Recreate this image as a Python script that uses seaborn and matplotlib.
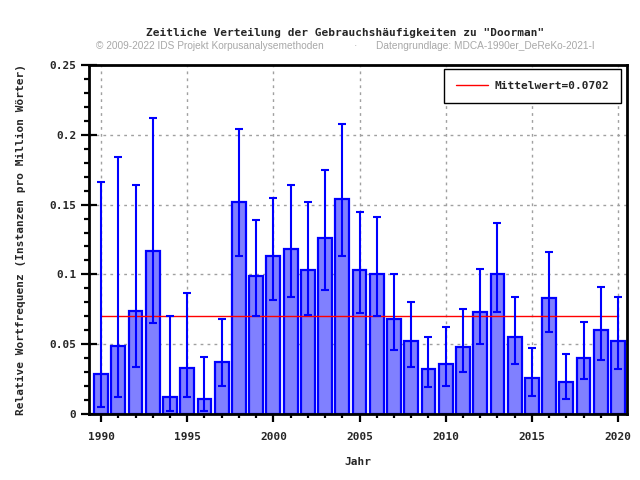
import numpy as np
import pandas as pd
import matplotlib
matplotlib.use('Agg')
import matplotlib.pyplot as plt
from matplotlib.ticker import MultipleLocator
import seaborn as sns

# Data
years = list(range(1990, 2021))
freq = [0.029, 0.049, 0.074, 0.117, 0.012, 0.033, 0.011, 0.037, 0.152, 0.099,
        0.113, 0.118, 0.103, 0.126, 0.154, 0.103, 0.100, 0.068, 0.052, 0.032,
        0.036, 0.048, 0.073, 0.100, 0.055, 0.026, 0.083, 0.023, 0.040, 0.060,
        0.052]
ci_low = [0.005, 0.012, 0.034, 0.065, 0.002, 0.012, 0.002, 0.020, 0.113, 0.070,
          0.082, 0.084, 0.071, 0.089, 0.113, 0.072, 0.070, 0.046, 0.034, 0.019,
          0.020, 0.030, 0.050, 0.073, 0.036, 0.013, 0.059, 0.011, 0.025, 0.039,
          0.032]
ci_high = [0.166, 0.184, 0.164, 0.212, 0.070, 0.087, 0.041, 0.068, 0.204, 0.139,
           0.155, 0.164, 0.152, 0.175, 0.208, 0.145, 0.141, 0.100, 0.080, 0.055,
           0.062, 0.075, 0.104, 0.137, 0.084, 0.047, 0.116, 0.043, 0.066, 0.091,
           0.084]
mean_value = 0.0702

df = pd.DataFrame({'Jahr': years, 'Frequenz': freq})

sns.set_style('white')
mono = 'DejaVu Sans Mono'

fig = plt.figure(figsize=(6.4, 4.8), dpi=100)
ax = fig.add_axes([89 / 640, 1 - 414 / 480, 538 / 640, 349 / 480])

# grid first so it stays behind bars
ax.set_axisbelow(True)
ax.grid(True, which='major', color='#a0a0a0', linestyle=(0, (2, 3)), linewidth=1)

sns.barplot(data=df, x='Jahr', y='Frequenz', native_scale=True, ax=ax,
            color='#8080ff', saturation=1, edgecolor='#0000ff', linewidth=1.6,
            errorbar=None)

err = [np.array(freq) - np.array(ci_low), np.array(ci_high) - np.array(freq)]
ax.errorbar(years, freq, yerr=err, fmt='none', ecolor='#0000ff',
            elinewidth=1.5, capsize=3, capthick=1.5, zorder=4)

ax.plot([years[0], years[-1]], [mean_value, mean_value], color='red',
        linewidth=1, zorder=3, label='Mittelwert=0.0702')

ax.set_xlim(1989.3, 2020.52)
ax.set_ylim(0, 0.25)

ax.xaxis.set_major_locator(MultipleLocator(5))
ax.xaxis.set_minor_locator(MultipleLocator(1))
ax.yaxis.set_minor_locator(MultipleLocator(0.01))

ax.set_xticks([1990, 1995, 2000, 2005, 2010, 2015, 2020])
ax.set_xticklabels(['1990', '1995', '2000', '2005', '2010', '2015', '2020'])
ax.set_yticks([0, 0.05, 0.1, 0.15, 0.2, 0.25])
ax.set_yticklabels(['0', '0.05', '0.1', '0.15', '0.2', '0.25'])

ax.tick_params(axis='both', which='both', color='black', labelsize=8, width=1.6)
ax.tick_params(axis='y', which='major', direction='inout', length=12, pad=3, left=True)
ax.tick_params(axis='y', which='minor', direction='out', length=3.5, left=True)
ax.tick_params(axis='x', which='major', direction='out', length=6, pad=7, bottom=True)
ax.tick_params(axis='x', which='minor', direction='out', length=3, bottom=True)
for lab in ax.get_xticklabels() + ax.get_yticklabels():
    lab.set_fontfamily(mono)
    lab.set_fontweight('bold')

for sp in ax.spines.values():
    sp.set_visible(True)
    sp.set_color('black')
    sp.set_linewidth(2)

ax.set_xlabel('Jahr', fontfamily=mono, fontweight='bold', fontsize=8, labelpad=11)
ax.set_ylabel('Relative Wortfrequenz (Instanzen pro Million Wörter)',
              fontfamily=mono, fontweight='bold', fontsize=8, labelpad=17)

leg = ax.legend(loc='upper right', bbox_to_anchor=(621 / 640, 1 - 69 / 480),
                bbox_transform=fig.transFigure, borderaxespad=0,
                prop={'family': mono, 'weight': 'bold', 'size': 8},
                frameon=True, fancybox=False, edgecolor='black', framealpha=1,
                handlelength=2.9, handletextpad=0.5, borderpad=1.1)
leg.get_frame().set_linewidth(1)

fig.text(0.54, 1 - 33 / 480, 'Zeitliche Verteilung der Gebrauchshäufigkeiten zu "Doorman"',
         ha='center', va='center', fontfamily=mono, fontweight='bold', fontsize=8)
fig.text(96 / 640, 1 - 46 / 480, '© 2009-2022 IDS Projekt Korpusanalysemethoden',
         ha='left', va='center', fontfamily='Liberation Sans', fontsize=7.3, color='#a8a8a8')
fig.text(355 / 640, 1 - 46 / 480, '·', ha='center', va='center',
         fontfamily='Liberation Sans', fontsize=7.3, color='#a8a8a8')
fig.text(376 / 640, 1 - 46 / 480, 'Datengrundlage: MDCA-1990er_DeReKo-2021-I',
         ha='left', va='center', fontfamily='Liberation Sans', fontsize=7.3, color='#a8a8a8')

fig.savefig('out.png', dpi=100)
